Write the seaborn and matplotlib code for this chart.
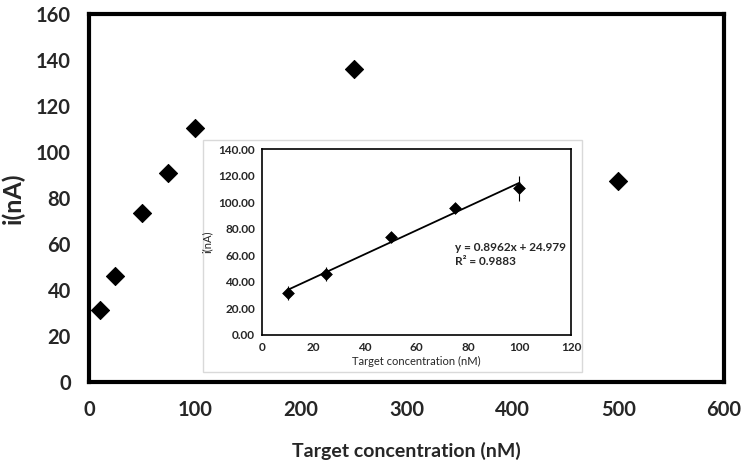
import matplotlib
matplotlib.use("Agg")
import matplotlib.pyplot as plt
import seaborn as sns
import numpy as np
import pandas as pd
from matplotlib.patches import Rectangle

# Main data
conc_main = [10, 25, 50, 75, 100, 250, 500]
current_main = [31.5, 46, 73.5, 91, 110.5, 136, 87.5]

# Inset data
conc_inset = [10, 25, 50, 75, 100]
current_inset = [31.5, 46, 73.5, 95.5, 110.5]
err_inset = [5, 5.5, 1.5, 2, 9.5]
slope, intercept = 0.8962, 24.979

main_xticks = [0, 100, 200, 300, 400, 500, 600]
main_yticks = [0, 20, 40, 60, 80, 100, 120, 140, 160]
inset_xticks = [0, 20, 40, 60, 80, 100, 120]
inset_yticks = [0, 20, 40, 60, 80, 100, 120, 140]

sns.set_theme(style="white")
plt.rcParams['font.family'] = ['Lato', 'DejaVu Sans']

fig = plt.figure(figsize=(7.42, 4.72), dpi=100)
ax = fig.add_axes([0.12, 0.1907, 0.8557, 0.7793])

df_main = pd.DataFrame({"x": conc_main, "y": current_main})
sns.scatterplot(data=df_main, x="x", y="y", marker="D", s=85, color="black",
                edgecolor="black", ax=ax, zorder=3)
ax.set_xlim(0, 600)
ax.set_ylim(0, 160)
ax.set_xticks(main_xticks)
ax.set_yticks(main_yticks)
ax.set_xticklabels([str(t) for t in main_xticks], fontsize=14.5, fontweight="bold")
ax.set_yticklabels([str(t) for t in main_yticks], fontsize=14.5, fontweight="bold")
ax.tick_params(axis="both", direction="inout", length=10, width=2.5, color="black", pad=8)
for sp in ax.spines.values():
    sp.set_linewidth(3)
    sp.set_color("black")
ax.set_xlabel("Target concentration (nM)", fontsize=14, fontweight="bold", labelpad=16)
ax.set_ylabel("i(nA)", fontsize=18, fontweight="bold", labelpad=8)

# Inset background box
fig.patches.append(Rectangle((0.2736, 0.2119), 0.5108, 0.4915, transform=fig.transFigure,
                             facecolor="white", edgecolor="#d9d9d9", linewidth=1, zorder=5))

axi = fig.add_axes([0.353, 0.2903, 0.4165, 0.394])
axi.set_zorder(6)
df_in = pd.DataFrame({"x": conc_inset, "y": current_inset})
axi.errorbar(conc_inset, current_inset, yerr=err_inset, fmt="none", ecolor="black",
             elinewidth=0.8, capsize=0)
sns.scatterplot(data=df_in, x="x", y="y", marker="D", s=36, color="black",
                edgecolor="black", ax=axi, zorder=3)
fx = np.array([conc_inset[0], conc_inset[-1]])
sns.lineplot(x=fx, y=slope * fx + intercept, color="black", linewidth=1.3, ax=axi)
axi.set_xlim(0, 120)
axi.set_ylim(0, 140)
axi.set_xticks(inset_xticks)
axi.set_yticks(inset_yticks)
axi.set_xticklabels([str(t) for t in inset_xticks], fontsize=8.5, fontweight="bold")
axi.set_yticklabels([f"{t:.2f}" for t in inset_yticks], fontsize=8.5, fontweight="bold")
axi.tick_params(axis="both", direction="out", length=3, width=1, color="black", pad=2)
for sp in axi.spines.values():
    sp.set_linewidth(1.2)
    sp.set_color("black")
axi.set_xlabel("Target concentration (nM)", fontsize=8, labelpad=2)
axi.set_ylabel("i(nA)", fontsize=8, labelpad=4)
axi.text(75, 66, "y = 0.8962x + 24.979", fontsize=8.5, fontweight="bold", va="center")
axi.text(75, 55, "R² = 0.9883", fontsize=8.5, fontweight="bold", va="center")

fig.savefig("out.png", dpi=100)
